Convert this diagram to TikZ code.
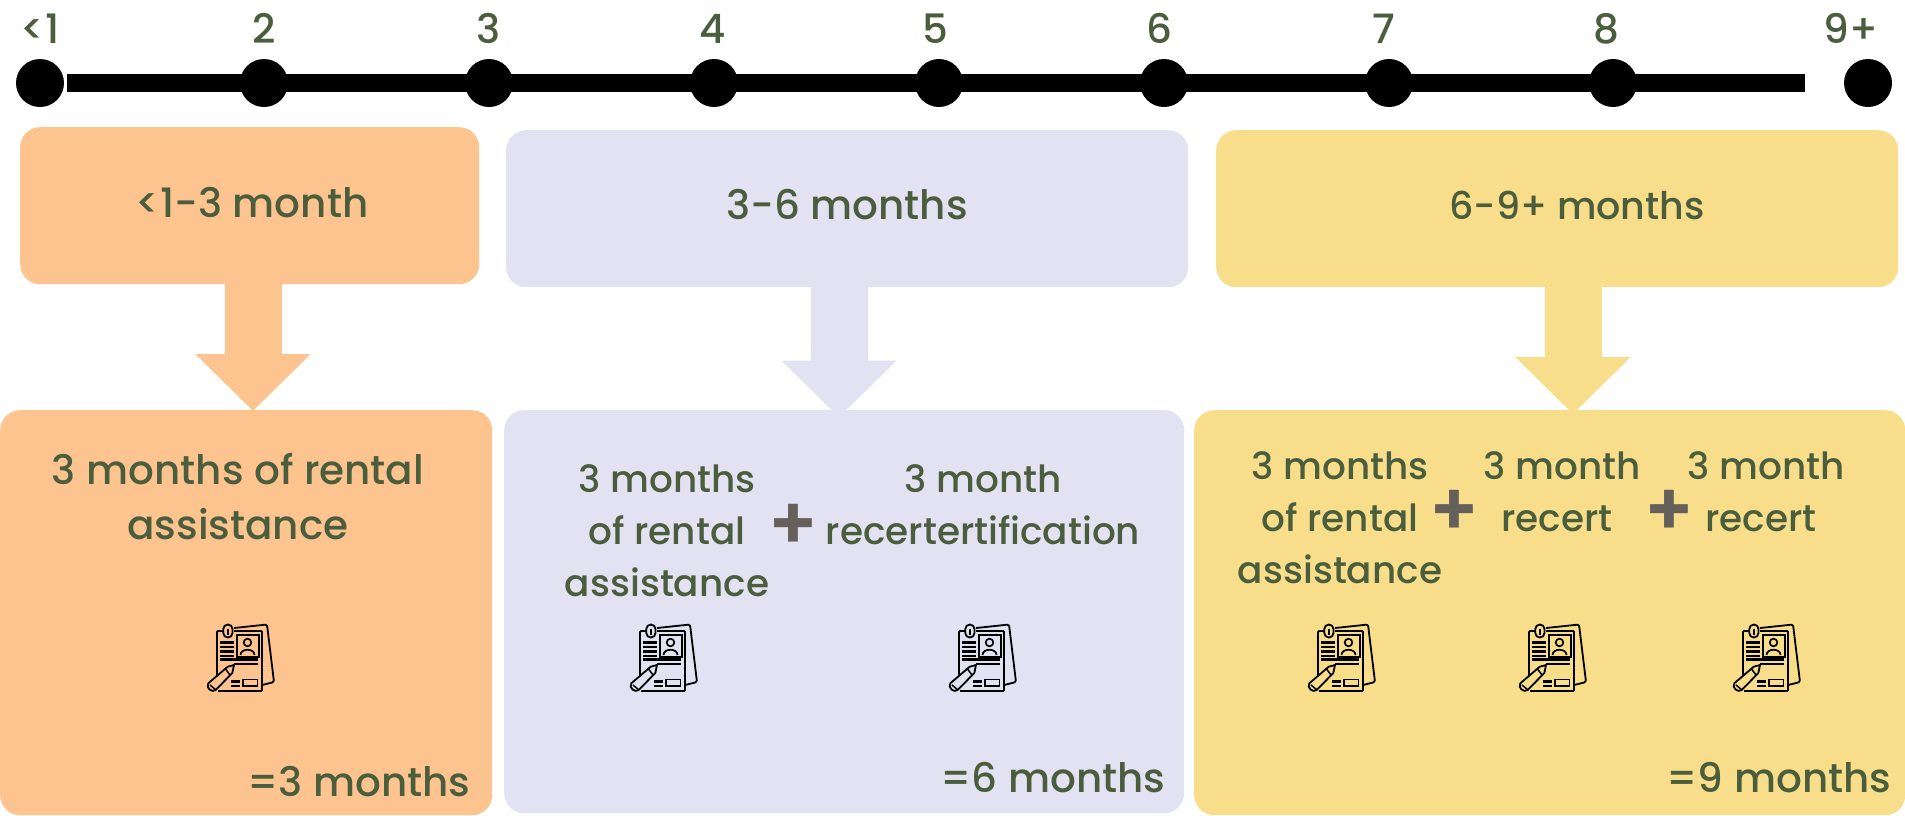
\documentclass[tikz,border=0pt]{standalone}
\usepackage{fontspec}
\setmainfont{Poppins}[UprightFont=* Medium]
\newfontfamily\plusfont{Poppins}[UprightFont=* SemiBold]
\usetikzlibrary{arrows.meta}
\definecolor{peachfill}{HTML}{FEC48F}
\definecolor{lilacfill}{HTML}{E3E2F2}
\definecolor{sandfill}{HTML}{F8DE8A}
\definecolor{olivetext}{HTML}{4A5D3C}
\definecolor{plusgrey}{HTML}{65615A}
\tikzset{
  tick/.style={circle,fill=black,inner sep=0pt,minimum size=48pt},
  timeline/.style={line width=18pt,black},
  panel/.style={rounded corners=20pt,anchor=north west,inner sep=0pt},
  fatarrow/.style={line width=57pt,-{Triangle[length=57pt,width=112pt]}},
  bigtext/.style={text=olivetext,font=\fontsize{40.5}{55}\selectfont,align=center,inner sep=0pt},
  smalltext/.style={text=olivetext,font=\fontsize{37.4}{52}\selectfont,align=center,inner sep=0pt},
  plussign/.style={text=plusgrey,font=\plusfont\fontsize{74}{74}\selectfont,inner sep=0pt},
  pics/resume/.style={code={
    \draw[line width=1.8pt,rounded corners=1.5pt,line join=round]
      (27,4) -- (60,0.5) -- (67,58) -- (55,61);
    \draw[line width=1.8pt,rounded corners=1pt]
      (10,52) -- (10,7) -- (16,7) (27,7) -- (55,7) -- (55,67) -- (11,67);
    \draw[line width=1.8pt,rounded corners=4.5pt] (16.3,0.5) rectangle (25.5,13.5);
    \draw[line width=1.6pt] (20.9,4.5) -- (20.9,11);
    \draw[line width=2pt] (29.5,11) rectangle (51.5,32.5);
    \draw[line width=1.7pt] (40.5,18.5) circle (3.8pt);
    \draw[line width=1.7pt] (33.5,31) .. controls (33.5,24) and (47.5,24) .. (47.5,31);
    \draw[line width=2.6pt] (13,18.3) -- (27,18.3) (13,23) -- (27,23) (13,27.7) -- (27,27.7) (13,32) -- (27,32);
    \draw[line width=2.6pt] (13,35.6) -- (51,35.6);
    \draw[line width=1.8pt] (27,40) -- (51,40);
    \draw[line width=1.8pt,line join=round] (27,41) -- (20.7,42.7) -- (1.3,59.3)
      .. controls (-1.5,64) and (5,69) .. (8.7,66) -- (25.3,49) -- cycle;
    \draw[line width=1.5pt] (18,44.3) -- (23,51) (3,61) -- (9,66);
    \draw[line width=2.6pt] (24,57.7) -- (33,57.7) (24,62) -- (33,62);
    \draw[line width=1.6pt] (35.7,55.3) rectangle (50.3,62);
  }}
}
\begin{document}
\begin{tikzpicture}[x=1pt,y=-1pt]
  \useasboundingbox (0,0) rectangle (1905,815);
  \coordinate (barstart) at (67,83);
  \coordinate (barend) at (1805,83);
  \coordinate (tippeach) at (253,411);
  \coordinate (tiplilac) at (839,417.5);
  \coordinate (tipsand) at (1573,414);
  \draw[timeline] (barstart) -- (barend);
  \draw
    (40,83) node[tick] (t1){}
    (264,83) node[tick] (t2){}
    (489,83) node[tick] (t3){}
    (714,83) node[tick] (t4){}
    (939,83) node[tick] (t5){}
    (1164,83) node[tick] (t6){}
    (1389,83) node[tick] (t7){}
    (1613,83) node[tick] (t8){}
    (1868,83) node[tick] (t9){};
  \begin{scope}[bigtext,nodes={anchor=base}]
    \node (lab1) at (40,43) {<1};
    \node (lab2) at (264,43) {2};
    \node (lab3) at (489,43) {3};
    \node (lab4) at (713,43) {4};
    \node (lab5) at (935,43) {5};
    \node (lab6) at (1159,43) {6};
    \node (lab7) at (1384,43) {7};
    \node (lab8) at (1606,43) {8};
    \node (lab9) at (1851,43) {9+};
  \end{scope}
  \node[panel,fill=peachfill,minimum width=459pt,minimum height=157pt] (toppeach) at (20,127) {};
  \node[panel,fill=lilacfill,minimum width=682pt,minimum height=157pt] (toplilac) at (506,130) {};
  \node[panel,fill=sandfill,minimum width=682pt,minimum height=157pt] (topsand) at (1216,130) {};
  \draw[fatarrow,peachfill] (toppeach.south -| tippeach) -- (tippeach);
  \draw[fatarrow,lilacfill] (toplilac.south -| tiplilac) -- (tiplilac);
  \draw[fatarrow,sandfill] (topsand.south -| tipsand) -- (tipsand);
  \node[panel,fill=peachfill,minimum width=492pt,minimum height=405pt] (lowpeach) at (0,410) {};
  \node[panel,fill=lilacfill,minimum width=680pt,minimum height=403pt] (lowlilac) at (504,410) {};
  \node[panel,fill=sandfill,minimum width=711pt,minimum height=405pt] (lowsand) at (1194,410) {};
  \node[bigtext] (headpeach) at (252,203) {<1-3 month};
  \node[bigtext] (headlilac) at (847,205) {3-6 months};
  \node[bigtext,font=\fontsize{38}{50}\selectfont] (headsand) at (1577,205) {6-9+ months};
  \node[bigtext] (textpeach) at (238,497) {3 months of rental\\assistance};
  \node[smalltext] (textlilaca) at (667,531) {3 months\\of rental\\assistance};
  \node[smalltext] (textlilacb) at (983,505) {3 month\\recertertification};
  \node[smalltext] (textsanda) at (1340,518) {3 months\\of rental\\assistance};
  \node[smalltext] (textsandb) at (1562,492) {3 month\\recert\kern10pt};
  \node[smalltext] (textsandc) at (1766,492) {3 month\\recert\kern10pt};
  \node[plussign] (pluslilac) at (793,527) {+};
  \node[plussign] (plussanda) at (1454,513) {+};
  \node[plussign] (plussandb) at (1669,513) {+};
  \pic at (207,624) {resume};
  \pic at (630,624) {resume};
  \pic at (949,624) {resume};
  \pic at (1308,624) {resume};
  \pic at (1519,624) {resume};
  \pic at (1733,624) {resume};
  \node[bigtext,anchor=base] (sumpeach) at (359,796) {=3 months};
  \node[bigtext,anchor=base] (sumlilac) at (1053,792) {=6 months};
  \node[bigtext,anchor=base] (sumsand) at (1779,792) {=9 months};
\end{tikzpicture}
\end{document}
